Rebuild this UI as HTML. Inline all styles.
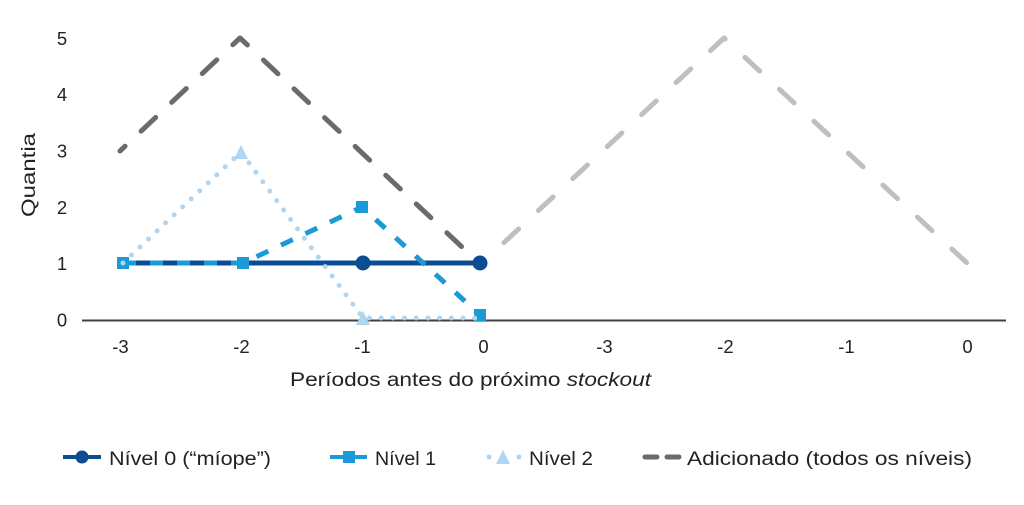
<!DOCTYPE html>
<html>
<head>
<meta charset="utf-8">
<style>
  html, body { margin: 0; padding: 0; background: #ffffff; }
  svg { display: block; }
  text { font-family: "Liberation Sans", "DejaVu Sans", sans-serif; fill: #222222; }
</style>
</head>
<body>
<svg width="1024" height="505" viewBox="0 0 1024 505" xmlns="http://www.w3.org/2000/svg">
  <rect x="0" y="0" width="1024" height="505" fill="#ffffff"/>

  <!-- Y tick labels -->
  <g font-size="18.5" text-anchor="middle">
    <text x="62" y="45">5</text>
    <text x="62" y="101">4</text>
    <text x="62" y="157.5">3</text>
    <text x="62" y="214">2</text>
    <text x="62" y="270">1</text>
    <text x="62" y="326.5">0</text>
  </g>

  <!-- Y axis title -->
  <text x="0" y="0" font-size="19" text-anchor="middle" transform="translate(35,175) rotate(-90)" textLength="84" lengthAdjust="spacingAndGlyphs">Quantia</text>

  <!-- X axis line -->
  <line x1="82" y1="320.5" x2="1006" y2="320.5" stroke="#404040" stroke-width="2"/>

  <!-- X tick labels -->
  <g font-size="18.5" text-anchor="middle">
    <text x="120.5" y="353">-3</text>
    <text x="241.5" y="353">-2</text>
    <text x="362.5" y="353">-1</text>
    <text x="483.5" y="353">0</text>
    <text x="604.5" y="353">-3</text>
    <text x="725.5" y="353">-2</text>
    <text x="846.5" y="353">-1</text>
    <text x="967.5" y="353">0</text>
  </g>

  <!-- X axis title -->
  <text x="290" y="386" font-size="19" textLength="361" lengthAdjust="spacingAndGlyphs">Períodos antes do próximo <tspan font-style="italic">stockout</tspan></text>

  <!-- Adicionado (light gray continuation) -->
  <polyline points="482,263 724,38 967,263" fill="none" stroke="#bfbfbf" stroke-width="5" stroke-linecap="round" stroke-linejoin="round" stroke-dasharray="20 27" stroke-dashoffset="17"/>

  <!-- Adicionado (dark gray) -->
  <polyline points="120,151 240,38 360,151 479,263" fill="none" stroke="#6b6b6b" stroke-width="5" stroke-linecap="round" stroke-linejoin="round" stroke-dasharray="20 22" stroke-dashoffset="13"/>

  <!-- Nível 0 -->
  <line x1="123" y1="263" x2="480" y2="263" stroke="#0b4c93" stroke-width="5"/>
  <circle cx="363" cy="263" r="7.5" fill="#0b4c93"/>
  <circle cx="480" cy="263" r="7.5" fill="#0b4c93"/>

  <!-- Nível 1 -->
  <polyline points="123,263 243,263 362,207 480,315" fill="none" stroke="#1a9bd7" stroke-width="5" stroke-dasharray="13 14"/>
  <rect x="117" y="257" width="12" height="12" fill="#1a9bd7"/>
  <rect x="237" y="257" width="12" height="12" fill="#1a9bd7"/>
  <rect x="356" y="201" width="12" height="12" fill="#1a9bd7"/>
  <rect x="474" y="309" width="12" height="12" fill="#1a9bd7"/>

  <!-- Nível 2 -->
  <polyline points="123,263 241,152 363,318 480,318" fill="none" stroke="#b0d5f0" stroke-width="5" stroke-linecap="round" stroke-dasharray="0 11.7"/>
  <polygon points="241,145 248,159 234,159" fill="#b0d5f0"/>
  <polygon points="363,311 370,325 356,325" fill="#b0d5f0"/>

  <!-- Legend -->
  <!-- Nível 0 -->
  <line x1="63" y1="457" x2="101" y2="457" stroke="#0b4c93" stroke-width="4"/>
  <circle cx="82" cy="457" r="6.5" fill="#0b4c93"/>
  <text x="109" y="465" font-size="19" textLength="162" lengthAdjust="spacingAndGlyphs">Nível 0 (“míope”)</text>

  <!-- Nível 1 -->
  <line x1="330" y1="457" x2="367" y2="457" stroke="#1a9bd7" stroke-width="4"/>
  <rect x="343" y="451" width="12" height="12" fill="#1a9bd7"/>
  <text x="375" y="465" font-size="19" textLength="61" lengthAdjust="spacingAndGlyphs">Nível 1</text>

  <!-- Nível 2 -->
  <circle cx="489" cy="457" r="2.5" fill="#b0d5f0"/>
  <circle cx="519" cy="457" r="2.5" fill="#b0d5f0"/>
  <polygon points="503,450 510,464 496,464" fill="#b0d5f0"/>
  <text x="529" y="465" font-size="19" textLength="64" lengthAdjust="spacingAndGlyphs">Nível 2</text>

  <!-- Adicionado -->
  <line x1="645" y1="457" x2="657" y2="457" stroke="#6b6b6b" stroke-width="5" stroke-linecap="round"/>
  <line x1="667" y1="457" x2="679" y2="457" stroke="#6b6b6b" stroke-width="5" stroke-linecap="round"/>
  <text x="687" y="465" font-size="19" textLength="285" lengthAdjust="spacingAndGlyphs">Adicionado (todos os níveis)</text>
</svg>
</body>
</html>
